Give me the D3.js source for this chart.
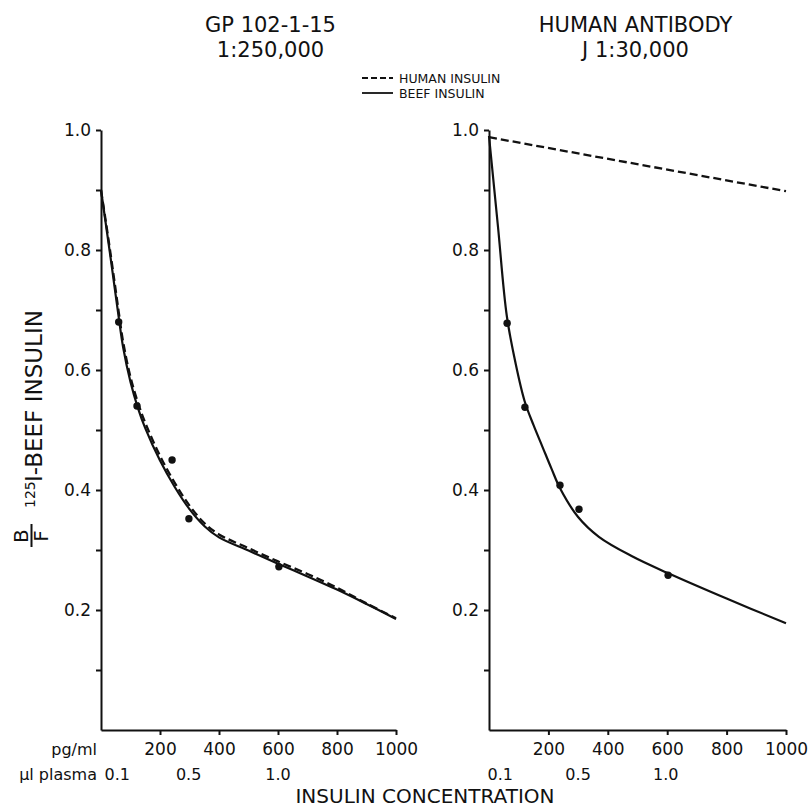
<!DOCTYPE html>
<html>
<head>
<meta charset="utf-8">
<script src="https://cdn.jsdelivr.net/npm/d3@7"></script>
<style>
  body { margin: 0; background: #fff; }
  text { font-family: "DejaVu Sans", sans-serif; fill: #111; }
</style>
</head>
<body>
<div class="chart"></div>
<script>
// tick values
const xTicks = [200, 400, 600, 800, 1000]
const yTicks = [0.1, 0.2, 0.3, 0.4, 0.5, 0.6, 0.7, 0.8, 0.9, 1.0]
const yLabelled = [0.2, 0.4, 0.6, 0.8, 1.0]
const plasmaLabels = ["0.1", "0.5", "1.0"]
const leftPlasmaAt = [55, 297, 600]
const rightPlasmaAt = [38, 300, 595]

// GP 102-1-15 panel
const leftCurveX = [0, 15, 30, 45, 60, 75, 100, 125, 150, 200, 250, 300, 350, 400, 500, 600, 700, 800, 900, 1000]
const leftBeefCurve = [0.90, 0.848, 0.796, 0.742, 0.688, 0.638, 0.58, 0.537, 0.503, 0.449, 0.405, 0.368, 0.34, 0.321, 0.299, 0.277, 0.256, 0.234, 0.21, 0.185]
const leftHumanCurve = [0.90, 0.852, 0.802, 0.75, 0.697, 0.647, 0.588, 0.546, 0.512, 0.457, 0.412, 0.374, 0.345, 0.326, 0.303, 0.281, 0.26, 0.237, 0.211, 0.186]
const leftDotX = [60, 122, 241, 298, 603]
const leftDotY = [0.68, 0.54, 0.45, 0.352, 0.272]

// Human antibody panel
const rightCurveX = [0, 30, 60, 90, 120, 150, 180, 210, 240, 300, 370, 480, 600, 800, 1000]
const rightBeefCurve = [0.99, 0.84, 0.69, 0.61, 0.548, 0.508, 0.472, 0.436, 0.402, 0.355, 0.322, 0.29, 0.262, 0.219, 0.178]
const rightHumanX = [0, 1000]
const rightHumanCurve = [0.988, 0.898]
const rightDotX = [61, 121, 239, 303, 603]
const rightDotY = [0.678, 0.538, 0.408, 0.368, 0.258]

const width = 812, height = 809
const plotTop = 130, plotBottom = 730

const svg = d3.select(".chart")
    .append("svg")
        .attr("width", width)
        .attr("height", height)

function zip(xs, ys) {
    return xs.map((x, i) => ({x: x, y: ys[i]}))
}

function drawPanel(p) {
    const x = d3.scaleLinear().domain([0, 1000]).range([p.left, p.right])
    const y = d3.scaleLinear().domain([0, 1]).range([plotBottom, plotTop])

    const yAxis = svg.append("g")
        .attr("transform", "translate(" + p.left + ",0)")
        .call(d3.axisLeft(y)
            .tickValues(yTicks)
            .tickSize(5)
            .tickSizeOuter(0)
            .tickPadding(5)
            .tickFormat(d => yLabelled.some(v => Math.abs(v - d) < 1e-6) ? d3.format(".1f")(d) : ""))
    yAxis.selectAll("text").style("font-size", "17px").attr("font-family", null)

    const xAxis = svg.append("g")
        .attr("transform", "translate(0," + plotBottom + ")")
        .call(d3.axisBottom(x)
            .tickValues(xTicks)
            .tickSize(5)
            .tickSizeOuter(0)
            .tickPadding(8)
            .tickFormat(d3.format("d")))
    xAxis.selectAll("text").style("font-size", "17px").attr("font-family", null)

    svg.selectAll(".domain, .tick line")
        .attr("stroke", "#111")
        .attr("stroke-width", 2)

    svg.append("g")
        .selectAll("text")
        .data(p.plasmaAt)
        .enter()
        .append("text")
            .attr("x", d => x(d))
            .attr("y", 780)
            .attr("text-anchor", "middle")
            .style("font-size", "16px")
            .text((d, i) => plasmaLabels[i])

    const line = d3.line()
        .x(d => x(d.x))
        .y(d => y(d.y))
        .curve(d3.curveCatmullRom.alpha(0.5))

    svg.append("path")
        .datum(zip(p.humanX, p.human))
        .attr("d", line)
        .attr("fill", "none")
        .attr("stroke", "#111")
        .attr("stroke-width", 2.3)
        .attr("stroke-dasharray", "8,4")

    svg.append("path")
        .datum(zip(p.beefX, p.beef))
        .attr("d", line)
        .attr("fill", "none")
        .attr("stroke", "#111")
        .attr("stroke-width", 2.2)

    svg.append("g")
        .selectAll("circle")
        .data(zip(p.dotX, p.dotY))
        .enter()
        .append("circle")
            .attr("cx", d => x(d.x))
            .attr("cy", d => y(d.y))
            .attr("r", 3.7)
            .attr("fill", "#111")

    const cx = (p.left + p.right) / 2
    p.title.forEach((t, i) => {
        svg.append("text")
            .attr("x", cx + p.titleShift)
            .attr("y", 32 + i * 25)
            .attr("text-anchor", "middle")
            .style("font-size", "21px")
            .text(t)
    })
}

drawPanel({
    left: 101, right: 396,
    beefX: leftCurveX, beef: leftBeefCurve,
    humanX: leftCurveX, human: leftHumanCurve,
    dotX: leftDotX, dotY: leftDotY,
    plasmaAt: leftPlasmaAt,
    title: ["GP 102-1-15", "1:250,000"], titleShift: 22
})

drawPanel({
    left: 489, right: 786,
    beefX: rightCurveX, beef: rightBeefCurve,
    humanX: rightHumanX, human: rightHumanCurve,
    dotX: rightDotX, dotY: rightDotY,
    plasmaAt: rightPlasmaAt,
    title: ["HUMAN ANTIBODY", "J 1:30,000"], titleShift: -2
})

// unit labels on the left of the x axis
svg.append("text")
    .attr("x", 97).attr("y", 755)
    .attr("text-anchor", "end")
    .style("font-size", "16px")
    .text("pg/ml")
svg.append("text")
    .attr("x", 97).attr("y", 780)
    .attr("text-anchor", "end")
    .style("font-size", "16px")
    .text("μl plasma")

svg.append("text")
    .attr("x", 425).attr("y", 803)
    .attr("text-anchor", "middle")
    .style("font-size", "20px")
    .text("INSULIN CONCENTRATION")

// legend
const legend = svg.append("g").attr("transform", "translate(362,78)")
const legendNames = ["HUMAN INSULIN", "BEEF INSULIN"]
const legendDash = ["6,3", null]
legendNames.forEach((name, i) => {
    legend.append("line")
        .attr("x1", 0).attr("x2", 31)
        .attr("y1", i * 15).attr("y2", i * 15)
        .attr("stroke", "#111")
        .attr("stroke-width", 1.8)
        .attr("stroke-dasharray", legendDash[i])
    legend.append("text")
        .attr("x", 37).attr("y", i * 15 + 5)
        .style("font-size", "12.5px")
        .text(name)
})

// y axis title: B/F  125I-BEEF INSULIN, rotated
const yTitle = svg.append("g").attr("transform", "translate(42,550) rotate(-90)")
yTitle.append("text").attr("x", 14).attr("y", -14).attr("text-anchor", "middle")
    .style("font-size", "20px").text("B")
yTitle.append("line").attr("x1", 3).attr("x2", 26).attr("y1", -10.5).attr("y2", -10.5)
    .attr("stroke", "#111").attr("stroke-width", 2)
yTitle.append("text").attr("x", 14).attr("y", 6).attr("text-anchor", "middle")
    .style("font-size", "20px").text("F")
yTitle.append("text").attr("x", 42).attr("y", -7)
    .style("font-size", "14px").text("125")
yTitle.append("text").attr("x", 68).attr("y", 0)
    .style("font-size", "23px").text("I-BEEF INSULIN")
</script>
</body>
</html>
